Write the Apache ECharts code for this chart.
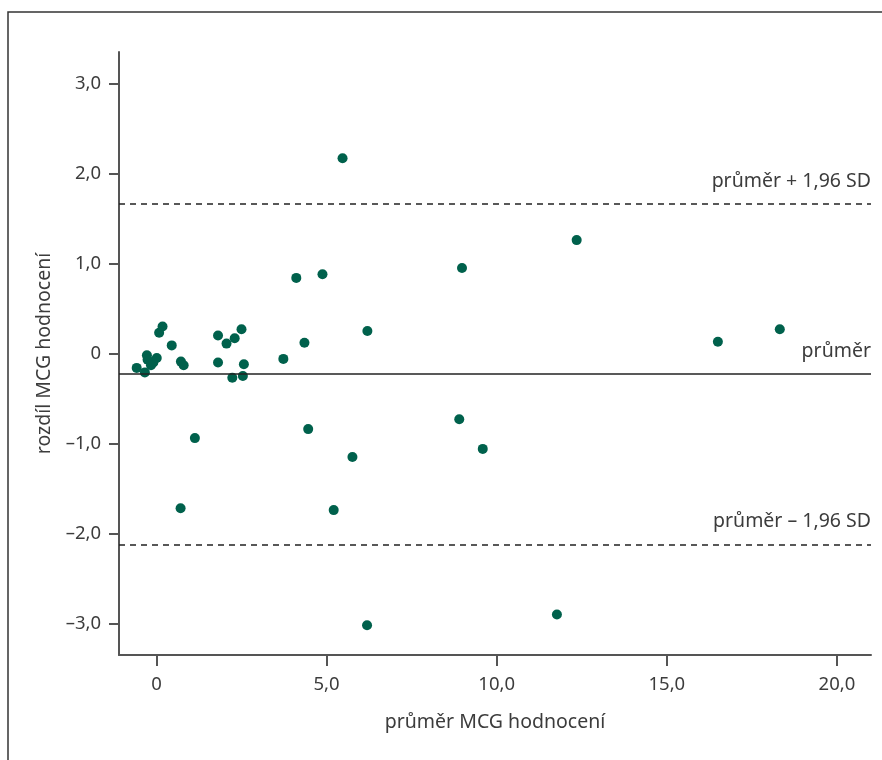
<!DOCTYPE html>
<html>
<head>
<meta charset="utf-8">
<style>
  html, body { margin: 0; padding: 0; background: #fff; }
  #chart { width: 882px; height: 760px; }
</style>
<script src="https://cdn.jsdelivr.net/npm/echarts@6/dist/echarts.min.js"></script>
</head>
<body>
<div id="chart"></div>
<script>
// průměr MCG hodnocení (x) a rozdíl MCG hodnocení (y)
const avgValues = [
  -0.58, -0.34, -0.28, -0.26, -0.16, -0.09, 0.01, 0.08, 0.18, 0.45, 0.72, 0.80,
  1.13, 0.71, 1.81, 1.81, 2.06, 2.30, 2.50, 2.23, 2.54, 2.57, 3.73,
  4.11, 4.88, 4.35, 4.46, 5.47, 5.76, 5.21, 6.20, 6.19,
  8.98, 8.90, 9.59, 11.77, 12.35, 16.50, 18.32
];
const diffValues = [
  -0.16, -0.21, -0.02, -0.07, -0.13, -0.10, -0.05, 0.23, 0.30, 0.09, -0.09, -0.13,
  -0.94, -1.72, 0.20, -0.10, 0.11, 0.17, 0.27, -0.27, -0.25, -0.12, -0.06,
  0.84, 0.88, 0.12, -0.84, 2.17, -1.15, -1.74, 0.25, -3.02,
  0.95, -0.73, -1.06, -2.90, 1.26, 0.13, 0.27
];
const refValues = [1.66, -0.225, -2.12];
const refLabels = ['průměr + 1,96 SD', 'průměr', 'průměr – 1,96 SD'];
const xTicks = [0, 5, 10, 15, 20];
const yTicks = [-3, -2, -1, 0, 1, 2, 3];

const textColor = '#3c3c3c';
const fontFamily = '"Noto Sans", "Open Sans", sans-serif';

function fmt(v) {
  if (v === 0) return '0';
  return v.toFixed(1).replace('.', ',').replace('-', '–');
}

const chart = echarts.init(document.getElementById('chart'));

const option = {
  animation: false,
  textStyle: { fontFamily: fontFamily },
  grid: { left: 119, right: 11, top: 52, bottom: 105 },
  graphic: [
    {
      type: 'polyline',
      shape: { points: [[8, 760], [8, 12], [882, 12]] },
      style: { stroke: '#333', lineWidth: 1.5, fill: null }
    }
  ],
  xAxis: {
    type: 'value',
    min: -1.1,
    max: 21,
    name: 'průměr MCG hodnocení',
    nameLocation: 'middle',
    nameGap: 57,
    nameTextStyle: { fontSize: 19.5, color: textColor, fontFamily: fontFamily },
    axisLine: { onZero: false, lineStyle: { color: '#555', width: 2 } },
    axisTick: { show: true, length: 11, customValues: xTicks, lineStyle: { color: '#555', width: 2 } },
    axisLabel: { customValues: xTicks, formatter: fmt, fontSize: 18.5, color: textColor, margin: 20 },
    splitLine: { show: false }
  },
  yAxis: {
    type: 'value',
    min: -3.35,
    max: 3.35,
    name: 'rozdíl MCG hodnocení',
    nameLocation: 'middle',
    nameGap: 65,
    nameTextStyle: { fontSize: 19.5, color: textColor, fontFamily: fontFamily },
    axisLine: { show: true, onZero: false, lineStyle: { color: '#555', width: 2 } },
    axisTick: { show: true, length: 10, customValues: yTicks, lineStyle: { color: '#555', width: 2 } },
    axisLabel: { customValues: yTicks, formatter: fmt, fontSize: 18.5, color: textColor, margin: 18 },
    splitLine: { show: false }
  },
  series: [
    {
      type: 'scatter',
      symbolSize: 10,
      itemStyle: { color: '#00614c', opacity: 1 },
      data: avgValues.map((x, i) => [x, diffValues[i]]),
      markLine: {
        silent: true,
        symbol: 'none',
        animation: false,
        data: refValues.map((v, i) => ({
          yAxis: v,
          lineStyle: {
            color: '#222',
            width: 1.5,
            type: i === 1 ? 'solid' : [6, 5]
          },
          label: {
            show: true,
            formatter: refLabels[i],
            position: 'insideEndTop',
            distance: [0, 13],
            fontSize: 19.5,
            color: textColor,
            fontFamily: fontFamily
          }
        }))
      }
    }
  ]
};

chart.setOption(option);
</script>
</body>
</html>
